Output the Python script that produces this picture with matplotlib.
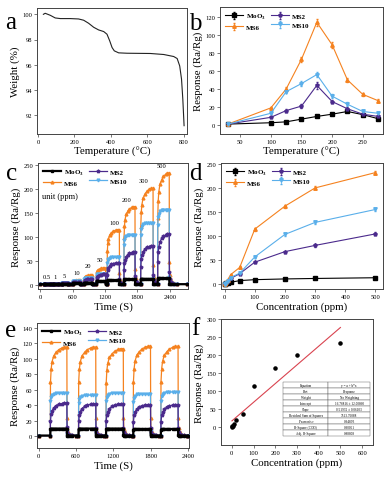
import numpy as np
import matplotlib.pyplot as plt
from matplotlib.ticker import MultipleLocator

plt.rcParams["font.family"] = "Liberation Serif"
plt.rcParams["mathtext.fontset"] = "custom"
plt.rcParams["mathtext.rm"] = "Liberation Serif"
plt.rcParams["mathtext.bf"] = "Liberation Serif:bold"

LABELS = ["MoO$_\\mathbf{3}$", "MS2", "MS6", "MS10"]
COLORS = ["#000000", "#4b2a8c", "#f5821f", "#5aafea"]
MARKERS = ["s", "p", "^", "v"]

# (a) TGA curve
tga_temp = [30, 40, 68, 95, 123, 178, 223, 251, 278, 306, 333, 361, 379, 394, 407, 419,
            443, 489, 617, 690, 745, 764, 778, 788, 795, 802]
tga_weight = [100.0, 100.08, 99.92, 99.71, 99.66, 99.66, 99.63, 99.53, 99.29, 98.97, 98.76,
              98.63, 98.42, 97.89, 97.36, 97.1, 96.94, 96.91, 96.89, 96.81, 96.65, 96.49,
              95.9, 94.85, 93.27, 91.16]

# (b) response vs operating temperature
op_temp = [30, 100, 125, 150, 175, 200, 225, 250, 275]
resp_temp = [
    [1, 2.5, 3.5, 6.5, 9.5, 12, 15, 11.5, 7],
    [1, 8.5, 16, 21, 44, 26, 18, 12, 9.5],
    [1, 19, 40, 73, 114, 89, 50, 34, 27],
    [1, 13, 37, 46, 56, 32, 23, 15, 13],
]
err_temp = [
    [0.3, 0.5, 0.5, 0.7, 0.8, 1, 1, 1, 1],
    [0.3, 1.2, 1.5, 2, 3.5, 2, 1.5, 1.2, 1],
    [0.3, 1.5, 2, 3, 4, 3, 2.5, 2, 2],
    [0.3, 1.2, 2, 2.5, 3, 2, 2, 1.5, 1.5],
]

# (c)/(d) concentration steps
conc = [0.5, 1, 5, 10, 20, 50, 100, 200, 300, 500]
conc_text = ["0.5", "1", "5", "10", "20", "50", "100", "200", "300", "500"]
resp_conc = [
    [0.5, 0.8, 1.5, 2.5, 4, 7.5, 9.5, 11, 12, 13.5],
    [0.8, 1.2, 3, 6, 12, 22, 46, 68, 81, 105],
    [1, 1.5, 4, 9, 20, 35, 115, 163, 201, 233],
    [0.8, 1.3, 3.5, 7, 14, 23, 57, 104, 129, 156],
]
err_conc = [
    [0.2, 0.2, 0.3, 0.3, 0.4, 0.5, 0.6, 0.6, 0.7, 0.7],
    [0.2, 0.2, 0.4, 0.5, 0.8, 1, 2, 2, 2.5, 3],
    [0.3, 0.3, 0.5, 0.8, 1.5, 2, 3, 3, 3, 3.5],
    [0.3, 0.3, 0.5, 0.6, 1, 1.5, 2, 2.5, 3, 3],
]
step_on = [70, 225, 395, 600, 815, 1040, 1240, 1550, 1860, 2175]
step_off = [180, 330, 505, 735, 960, 1210, 1465, 1755, 2090, 2390]
label_t = [124, 277, 449, 665, 880, 1108, 1366, 1606, 1908, 2246]
label_y = [12, 12, 15, 21, 34, 47, 125, 173, 212, 243]
step_end = 2720

# (e) repeatability, 100 ppm
rep_on = [187, 640, 1082, 1520, 1963]
rep_off = [453, 917, 1360, 1797, 2240]
rep_peak = [
    [10, 10, 10, 9.5, 9.5],
    [43, 42, 42, 41, 41],
    [115, 115, 113, 116, 116],
    [56, 53, 56, 55, 57],
]
rep_end = 2400

# pulse shape read from the transients (fraction of on-time / seconds after off)
rise_t = [0, 0.01, 0.05, 0.1, 0.2, 0.35, 0.5, 0.7, 0.85, 1.0]
rise_frac = [
    [0, 0.9, 1, 1, 1, 1, 1, 1, 1, 1],
    [0, 0.45, 0.65, 0.75, 0.85, 0.92, 0.96, 0.98, 1, 1],
    [0, 0.6, 0.75, 0.83, 0.9, 0.94, 0.97, 0.99, 1, 1],
    [0, 0.8, 0.9, 0.95, 0.98, 1, 1, 1, 1, 1],
]
fall_t = [3, 10, 25, 50, 90, 140]
fall_frac = [
    [0.05, 0, 0, 0, 0, 0],
    [0.25, 0.1, 0.05, 0.03, 0.01, 0],
    [0.2, 0.08, 0.04, 0.02, 0.01, 0],
    [0.1, 0.04, 0.02, 0.01, 0, 0],
]

# (f) linear fit of MS6
fit_intercept = 16.76816
fit_slope = 0.51932
fit_x = [0.5, 500]
table_rows = [
    ["Equation", "y = a + b*x"],
    ["Plot", "Response"],
    ["Weight", "No Weighting"],
    ["Intercept", "16.76816 \u00b1 12.00860"],
    ["Slope", "0.51932 \u00b1 0.06103"],
    ["Residual Sum of Squares", "7513.76088"],
    ["Pearson's r", "0.94893"],
    ["R-Square (COD)", "0.90051"],
    ["Adj. R-Square", "0.88808"],
]


def pulse_trace(on, off, peaks, rise, fall, t_last, base=1.0):
    t, y = [0.0], [base]
    for i, (s, e, p) in enumerate(zip(on, off, peaks)):
        nxt = on[i + 1] if i + 1 < len(on) else t_last
        for f, r in zip(rise_t, rise):
            t.append(s + f * (e - s))
            y.append(base + r * (p - base))
        for dt, r in zip(fall_t, fall):
            if e + dt < nxt:
                t.append(e + dt)
                y.append(base + r * (p - base))
    t.append(t_last)
    y.append(base)
    return t, y


def style(ax, xlabel, ylabel):
    for sp in ax.spines.values():
        sp.set_linewidth(0.7)
        sp.set_color("#444444")
    ax.tick_params(labelsize=4.7, length=2, width=0.5, pad=1.5, color="#444444")
    ax.set_xlabel(xlabel, fontsize=7.8, labelpad=1.5)
    ax.set_ylabel(ylabel, fontsize=7.8, labelpad=1.5)


def add_legend(ax):
    hs = ax.get_legend_handles_labels()[0]
    hs = [hs[0], hs[2], hs[1], hs[3]]
    labs = [LABELS[0], LABELS[2], LABELS[1], LABELS[3]]
    ax.legend(hs, labs, ncol=2, loc="upper left", frameon=False,
              prop={"size": 5, "weight": "bold"}, handlelength=2.6,
              columnspacing=0.8, handletextpad=0.4, labelspacing=0.4,
              borderaxespad=0.3)


W, H = 392, 481
fig = plt.figure(figsize=(W / 100, H / 100), dpi=100)


def axes_px(l, r, t, b):
    return fig.add_axes([l / W, 1 - b / H, (r - l) / W, (b - t) / H])


ax_a = axes_px(37, 187, 9, 135)
ax_b = axes_px(220, 383, 8, 135)
ax_c = axes_px(38, 188, 164, 290)
ax_d = axes_px(221, 383, 164, 290)
ax_e = axes_px(37, 189, 324, 449)
ax_f = axes_px(221, 373, 320, 446)

# a
ax_a.plot(tga_temp, tga_weight, color="#222222", lw=0.8)
ax_a.set_xlim(-5, 818)
ax_a.set_ylim(90.5, 100.5)
ax_a.xaxis.set_major_locator(MultipleLocator(200))
ax_a.yaxis.set_major_locator(MultipleLocator(2))
style(ax_a, "Temperature (\u00b0C)", "Weight (%)")

# b
for i in range(4):
    ax_b.errorbar(op_temp, resp_temp[i], yerr=err_temp[i], color=COLORS[i],
                  marker=MARKERS[i], ms=2.5, lw=0.8, elinewidth=0.5, capsize=1,
                  label=LABELS[i])
ax_b.set_xlim(17, 283)
ax_b.set_ylim(-10, 131)
ax_b.xaxis.set_major_locator(MultipleLocator(50))
ax_b.yaxis.set_major_locator(MultipleLocator(20))
style(ax_b, "Temperature (\u00b0C)", "Response (Ra/Rg)")
add_legend(ax_b)

# c
for i in [0, 1, 2, 3]:
    t, y = pulse_trace(step_on, step_off, resp_conc[i], rise_frac[i], fall_frac[i], step_end)
    z = {0: 5, 1: 4, 2: 2, 3: 3}[i]
    ax_c.plot(t, y, color=COLORS[i], marker=MARKERS[i], ms=2.0, lw=0.9 if i else 1.6,
              label=LABELS[i], zorder=z)
for tx, ty, s in zip(label_t, label_y, conc_text):
    ax_c.text(tx, ty, s, fontsize=4.7, ha="center", va="bottom")
ax_c.set_xlim(-43, 2738)
ax_c.set_ylim(-9, 254)
ax_c.xaxis.set_major_locator(MultipleLocator(600))
ax_c.yaxis.set_major_locator(MultipleLocator(50))
style(ax_c, "Time (S)", "Response (Ra/Rg)")
add_legend(ax_c)
ax_c.text(0.03, 0.72, "unit (ppm)", transform=ax_c.transAxes, fontsize=6)

# d
for i in range(4):
    ax_d.errorbar(conc, resp_conc[i], yerr=err_conc[i], color=COLORS[i],
                  marker=MARKERS[i], ms=2.5, lw=0.8, elinewidth=0.5, capsize=1,
                  label=LABELS[i])
ax_d.set_xlim(-12, 525)
ax_d.set_ylim(-10, 253)
ax_d.xaxis.set_major_locator(MultipleLocator(100))
ax_d.yaxis.set_major_locator(MultipleLocator(50))
style(ax_d, "Concentration (ppm)", "Response (Ra/Rg)")
add_legend(ax_d)

# e
for i in [0, 1, 2, 3]:
    t, y = pulse_trace(rep_on, rep_off, rep_peak[i], rise_frac[i], fall_frac[i], rep_end)
    z = {0: 5, 1: 4, 2: 2, 3: 3}[i]
    ax_e.plot(t, y, color=COLORS[i], marker=MARKERS[i], ms=2.0, lw=0.9 if i else 1.6,
              label=LABELS[i], zorder=z)
ax_e.set_xlim(-27, 2416)
ax_e.set_ylim(-15, 146)
ax_e.xaxis.set_major_locator(MultipleLocator(600))
ax_e.yaxis.set_major_locator(MultipleLocator(20))
style(ax_e, "Time (S)", "Response (Ra/Rg)")
add_legend(ax_e)

# f
ax_f.scatter(conc, resp_conc[2], s=5, color="black", zorder=3)
fx = np.array(fit_x)
ax_f.plot(fx, fit_intercept + fit_slope * fx, color="#d9434f", lw=0.8)
ax_f.set_xlim(-50, 650)
ax_f.set_ylim(-50, 300)
ax_f.set_xticks(range(0, 700, 100))
ax_f.set_yticks(range(0, 350, 50))
style(ax_f, "Concentration (ppm)", "Response (Ra/Rg)")
tbl = ax_f.table(cellText=table_rows, colWidths=[0.52, 0.48], cellLoc="center",
                 bbox=[0.41, 0.07, 0.57, 0.43])
tbl.auto_set_font_size(False)
tbl.set_fontsize(2.4)
for cell in tbl.get_celld().values():
    cell.set_linewidth(0.3)
    cell.set_edgecolor("#555555")

# panel letters
for s, x, y in [("a", 5, 29), ("b", 189, 30), ("c", 6, 180), ("d", 189, 180),
                ("e", 5, 337), ("f", 191, 335)]:
    fig.text(x / W, 1 - y / H, s, fontsize=18, ha="left", va="baseline")

fig.savefig("out.png", dpi=100)
